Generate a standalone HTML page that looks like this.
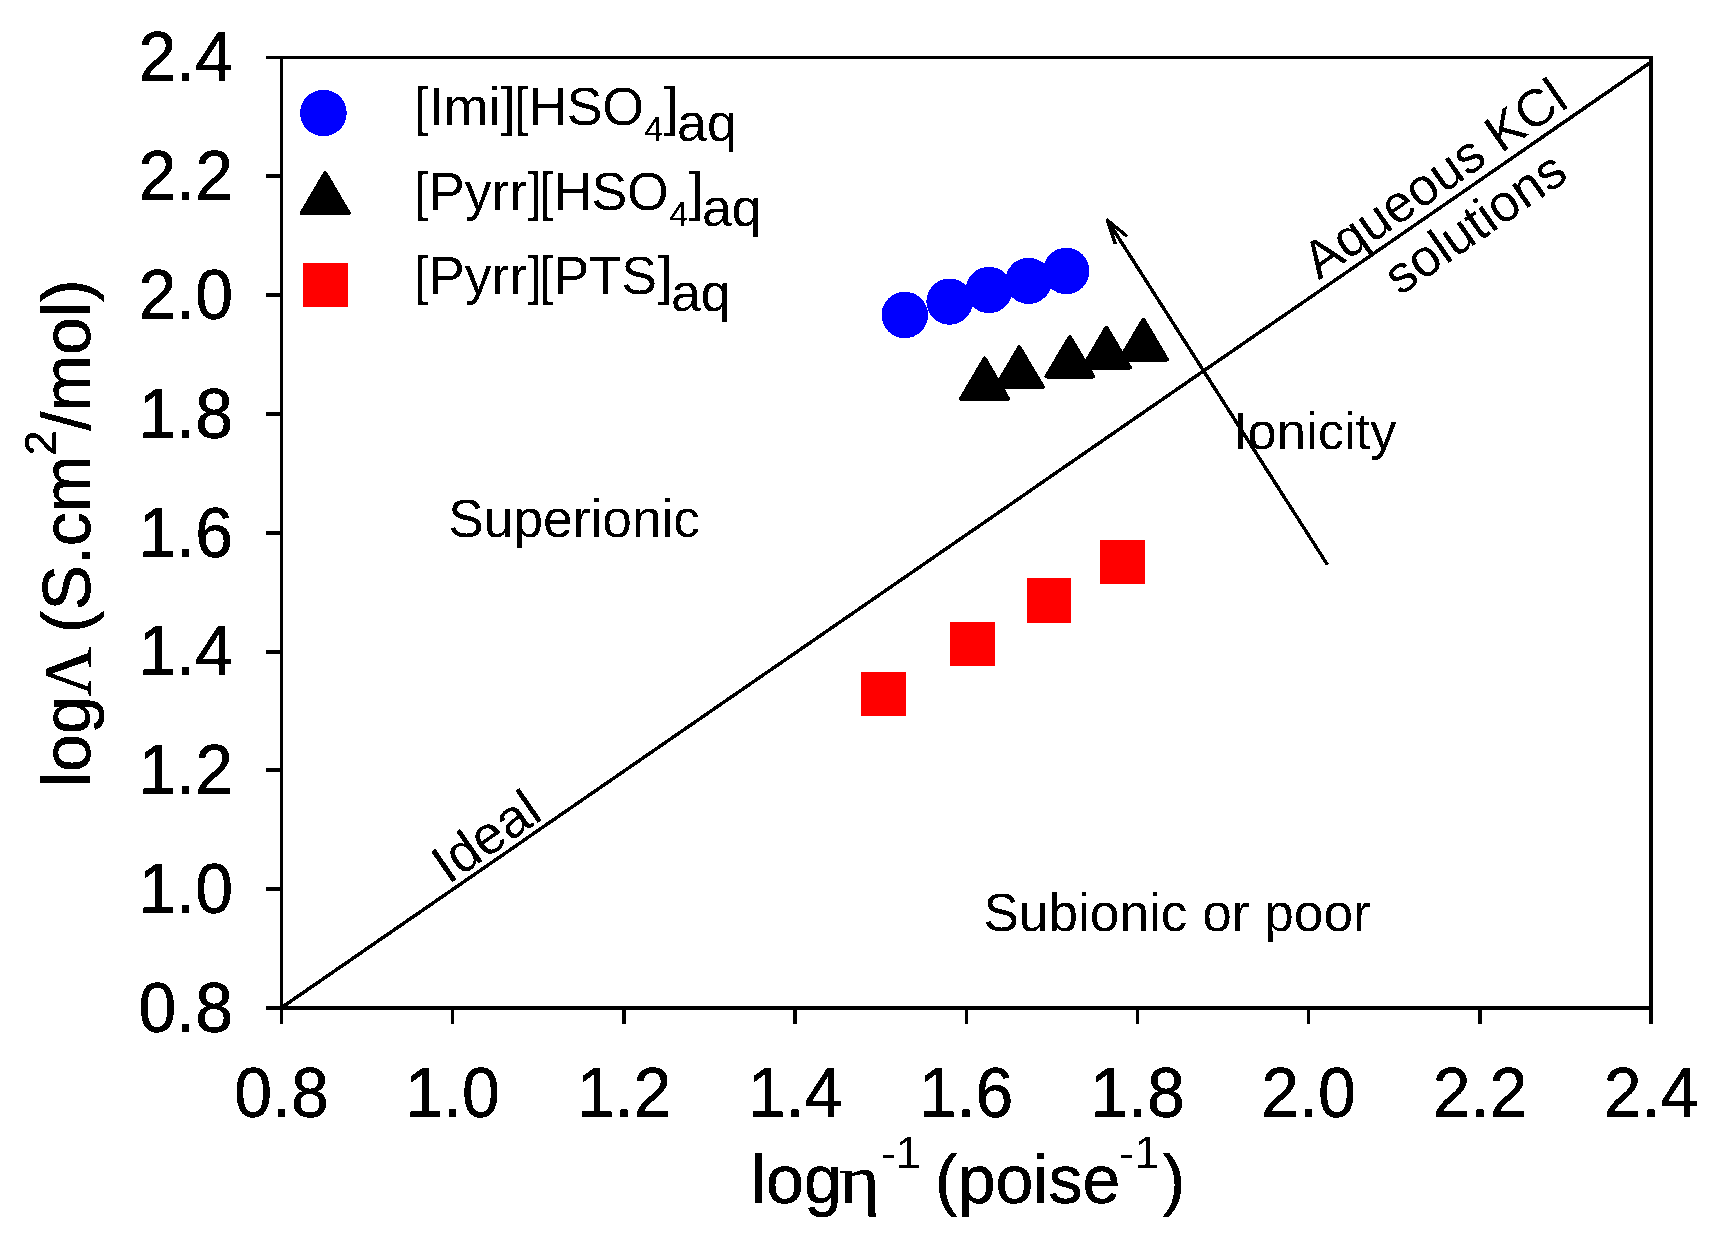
<!DOCTYPE html>
<html lang="en">
<head>
<meta charset="utf-8">
<title>Walden plot</title>
<style>
html,body{margin:0;padding:0;background:#fff;}
body{width:1718px;height:1243px;overflow:hidden;}
svg{display:block;}
text{font-family:"Liberation Sans",sans-serif;fill:#000;}
.tk{font-size:68px;stroke:#000;stroke-width:0.5px;}
.an{font-size:52.5px;}
.lg{font-size:53.7px;}
.sym{font-family:"Liberation Serif",serif;}
</style>
</head>
<body>
<svg width="1718" height="1243" viewBox="0 0 1718 1243">
<rect x="0" y="0" width="1718" height="1243" fill="#fff"/>
<defs>
  <filter id="hard" filterUnits="userSpaceOnUse" x="0" y="0" width="1718" height="1243" color-interpolation-filters="sRGB">
    <feComponentTransfer><feFuncA type="discrete" tableValues="0 1"/></feComponentTransfer>
  </filter>
</defs>
<g filter="url(#hard)">

<!-- axes frame -->
<g fill="#000" shape-rendering="crispEdges">
  <rect x="266" y="56" width="1387" height="3"/>
  <rect x="280" y="56" width="3" height="968"/>
  <rect x="266" y="1006" width="1387" height="4"/>
  <rect x="1649" y="56" width="4" height="968"/>
  <!-- y ticks -->
  <rect x="266" y="174" width="15" height="4"/>
  <rect x="266" y="293" width="15" height="4"/>
  <rect x="266" y="412" width="15" height="4"/>
  <rect x="266" y="531" width="15" height="4"/>
  <rect x="266" y="650" width="15" height="4"/>
  <rect x="266" y="768" width="15" height="4"/>
  <rect x="266" y="887" width="15" height="4"/>
  <!-- x ticks -->
  <rect x="450.95" y="1008" width="3.5" height="16" shape-rendering="auto"/>
  <rect x="622.15" y="1008" width="3.5" height="16" shape-rendering="auto"/>
  <rect x="793.35" y="1008" width="3.5" height="16" shape-rendering="auto"/>
  <rect x="964.55" y="1008" width="3.5" height="16" shape-rendering="auto"/>
  <rect x="1135.65" y="1008" width="3.5" height="16" shape-rendering="auto"/>
  <rect x="1306.85" y="1008" width="3.5" height="16" shape-rendering="auto"/>
  <rect x="1478.05" y="1008" width="3.5" height="16" shape-rendering="auto"/>
</g>

<!-- ideal line -->
<line x1="282" y1="1007.2" x2="1650" y2="62.8" stroke="#000" stroke-width="3.5"/>

<!-- y tick labels -->
<g class="tk" text-anchor="end">
  <text transform="translate(233,81) scale(1,1.04)">2.4</text>
  <text transform="translate(233,200) scale(1,1.04)">2.2</text>
  <text transform="translate(233,319) scale(1,1.04)">2.0</text>
  <text transform="translate(233,437.5) scale(1,1.04)">1.8</text>
  <text transform="translate(233,556.5) scale(1,1.04)">1.6</text>
  <text transform="translate(233,675) scale(1,1.04)">1.4</text>
  <text transform="translate(233,794) scale(1,1.04)">1.2</text>
  <text transform="translate(233,913) scale(1,1.04)">1.0</text>
  <text transform="translate(233,1031.5) scale(1,1.04)">0.8</text>
</g>
<!-- x tick labels -->
<g class="tk" text-anchor="middle">
  <text transform="translate(281.5,1117) scale(1,1.04)">0.8</text>
  <text transform="translate(452.5,1117) scale(1,1.04)">1.0</text>
  <text transform="translate(624,1117) scale(1,1.04)">1.2</text>
  <text transform="translate(795,1117) scale(1,1.04)">1.4</text>
  <text transform="translate(966,1117) scale(1,1.04)">1.6</text>
  <text transform="translate(1137.5,1117) scale(1,1.04)">1.8</text>
  <text transform="translate(1308.5,1117) scale(1,1.04)">2.0</text>
  <text transform="translate(1480,1117) scale(1,1.04)">2.2</text>
  <text transform="translate(1651,1117) scale(1,1.04)">2.4</text>
</g>

<!-- axis titles -->
<text class="tk" x="751" y="1202.5">log</text>
<text class="tk sym" transform="translate(839.3,1202.5) scale(1.14,1)">η</text>
<text font-size="45" x="881" y="1167.5">-1</text>
<text class="tk" x="935" y="1202.5">(poise</text>
<text font-size="45" x="1119.3" y="1167.5">-1</text>
<text class="tk" x="1162.4" y="1202.5">)</text>
<text class="tk" transform="translate(90,787) rotate(-90)">log<tspan class="sym">Λ</tspan><tspan dx="-5"> (S.cm</tspan><tspan font-size="45" dy="-34">2</tspan><tspan dy="34">/mol)</tspan></text>

<!-- legend -->
<circle cx="323.4" cy="113" r="23.3" fill="#0000ff"/>
<path d="M325.2 173 L348.7 213 L301.7 213 Z" fill="#000" stroke="#000" stroke-width="4" stroke-linejoin="round"/>
<rect x="302.7" y="262.7" width="45.3" height="44" fill="#ff0000"/>
<g class="lg">
  <text x="414" y="124.7">[Imi]<tspan x="513.7" style="letter-spacing:-0.3px">[HSO</tspan><tspan font-size="35" x="643.9" dy="16.3">4</tspan><tspan x="663.7" dy="-16.3">]</tspan><tspan x="677.1" dy="16.3">aq</tspan></text>
  <text x="414" y="210">[Pyrr]<tspan x="538.9" style="letter-spacing:-0.5px">[HSO</tspan><tspan font-size="35" x="669.1" dy="16.3">4</tspan><tspan x="688.6" dy="-16.3">]</tspan><tspan x="702" dy="16.3">aq</tspan></text>
  <text x="414" y="294.2">[Pyrr]<tspan x="538.9" style="letter-spacing:-0.4px">[PTS</tspan><tspan x="657.6">]</tspan><tspan x="671" dy="16.3">aq</tspan></text>
</g>

<!-- series circles -->
<g fill="#0000ff">
  <circle cx="904.8" cy="315" r="23.2"/>
  <circle cx="949.6" cy="301.6" r="23.2"/>
  <circle cx="989" cy="290" r="23.2"/>
  <circle cx="1028.6" cy="280.9" r="23.2"/>
  <circle cx="1066.2" cy="271" r="23.2"/>
</g>
<!-- series triangles -->
<g fill="#000" stroke="#000" stroke-width="4" stroke-linejoin="round">
  <path d="M984.7 358.4 L1008 398.7 L961 398.7 Z"/>
  <path d="M1019.3 347.3 L1042.8 386.8 L995.8 386.8 Z"/>
  <path d="M1069.8 337 L1093.3 376.5 L1046.3 376.5 Z"/>
  <path d="M1106.4 327.5 L1129.9 367.6 L1082.9 367.6 Z"/>
  <path d="M1143.4 319.6 L1166.9 359.5 L1119.9 359.5 Z"/>
</g>
<!-- series squares -->
<g fill="#ff0000" shape-rendering="crispEdges">
  <rect x="861" y="672" width="45" height="44"/>
  <rect x="950" y="622" width="45" height="44"/>
  <rect x="1027" y="578" width="44" height="45"/>
  <rect x="1100" y="540" width="45" height="44"/>
</g>

<!-- arrow -->
<g stroke="#000" stroke-width="3.4" fill="none" stroke-linecap="butt" stroke-linejoin="round">
  <line x1="1327.4" y1="564.7" x2="1107.2" y2="220"/>
  <path d="M1127 236.2 L1107.2 220 L1115.3 244"/>
</g>

<!-- annotations -->
<g class="an">
  <text x="448.2" y="536.7" font-size="53.3" style="font-size:53.3px">Superionic</text>
  <text x="983.4" y="930.7" style="font-size:53.2px">Subionic or poor</text>
  <text x="1233" y="448.8">Ionicity</text>
  <text transform="translate(448.3,884.9) rotate(-34.76)" style="font-size:54px">Ideal</text>
  <text transform="translate(1319,280.4) rotate(-34.76)" text-anchor="middle"><tspan x="153" y="0">Aqueous KCl</tspan><tspan x="161" y="59.5">solutions</tspan></text>
</g>
</g>
</svg>
</body>
</html>
